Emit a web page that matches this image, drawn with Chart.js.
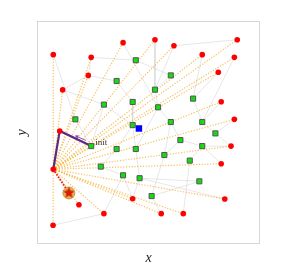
<!DOCTYPE html>
<html>
<head>
<meta charset="utf-8">
<script src="https://cdn.jsdelivr.net/npm/chart.js@4/dist/chart.umd.min.js"></script>
<style>
  html, body { margin: 0; padding: 0; background: #fff; }
  #c { display: block; }
</style>
</head>
<body>
<canvas id="c" width="287" height="275"></canvas>
<script>
// Red nodes (r0 is the hub the dotted rays start from, r1 is the path vertex)
const redX = [7.3, 10.2, 7.3, 24.3, 38.6, 23.0, 11.5, 52.9, 61.4, 89.8, 74.1, 88.5, 81.3, 82.6, 88.5, 87.0, 82.6, 84.2, 65.6, 55.7, 42.9, 30.0, 18.8, 7.2];
const redY = [33.5, 50.7, 84.9, 83.7, 90.3, 75.6, 69.1, 91.6, 88.9, 91.6, 84.9, 83.7, 77.0, 63.8, 55.9, 43.9, 36.0, 20.2, 13.6, 13.6, 20.3, 13.6, 17.6, 8.4];

// Green nodes (g19 is "init")
const greenX = [44.3, 35.7, 30.0, 42.9, 17.2, 42.9, 60.0, 52.9, 70.0, 54.3, 60.0, 74.1, 80.0, 64.3, 74.1, 57.1, 68.5, 72.8, 51.4, 24.3, 35.7, 44.3, 28.6, 38.6, 46.0];
const greenY = [82.4, 73.1, 62.5, 63.7, 55.9, 53.3, 75.6, 69.2, 65.2, 61.3, 54.7, 54.7, 49.6, 46.6, 43.9, 39.9, 37.4, 28.1, 21.5, 43.9, 42.6, 42.6, 34.7, 30.8, 29.5];

const bluePoint = [45.7, 51.8];
const starPoint = [14.3, 22.9];
const hubNode = 'r0';
const initNode = 'g19';
const initLabel = 'init';
const pathNodes = ['r0', 'r1', 'g19'];
const arrowTail = [22.0, 46.4];
const arrowHead = [17.9, 48.2];

// light gray graph edges
const edges = [
  ['r2', 'g4'], ['r6', 'g2'], ['r5', 'g1'], ['r3', 'g0'], ['r4', 'g9'], ['r7', 'g7'],
  ['r8', 'g7'], ['r8', 'r9'], ['r10', 'g8'], ['r11', 'g11'], ['r12', 'g8'], ['r13', 'g11'],
  ['r14', 'g12'], ['r15', 'g14'], ['r16', 'g14'], ['g0', 'g6'], ['g1', 'g3'], ['g2', 'g5'],
  ['g3', 'g5'], ['g4', 'g19'], ['g2', 'g19'], ['g5', 'g20'], ['g5', 'g21'], ['g6', 'g7'],
  ['g7', 'g9'], ['g9', 'g10'], ['g10', 'g13'], ['g8', 'g11'], ['g11', 'g12'], ['g13', 'g14'],
  ['g13', 'g15'], ['g14', 'g16'], ['g15', 'g18'], ['g16', 'r18'], ['g17', 'g18'], ['g18', 'r19'],
  ['g24', 'g17'], ['g24', 'r17'], ['g21', 'g24'], ['g20', 'g22'], ['g22', 'g23'], ['g23', 'r21'],
  ['r21', 'r23'], ['g23', 'r20'], ['g24', 'r20'], ['g12', 'r15'], ['g10', 'g15'], ['g9', 'g21'],
  ['r6', 'r5'], ['r3', 'r5']
];

function node(name) {
  const i = parseInt(name.slice(1), 10);
  return name[0] === 'r' ? { x: redX[i], y: redY[i] } : { x: greenX[i], y: greenY[i] };
}

// star marker image
const starImg = document.createElement('canvas');
starImg.width = 11; starImg.height = 11;
(function () {
  const g = starImg.getContext('2d');
  g.beginPath();
  for (let k = 0; k < 10; k++) {
    const r = k % 2 === 0 ? 5 : 2.2;
    const a = -Math.PI / 2 + k * Math.PI / 5;
    const px = 5.5 + r * Math.cos(a), py = 5.5 + r * Math.sin(a);
    if (k === 0) g.moveTo(px, py); else g.lineTo(px, py);
  }
  g.closePath();
  g.fillStyle = '#ee1111';
  g.fill();
  g.strokeStyle = '#7a1010';
  g.lineWidth = 0.6;
  g.stroke();
})();

const datasets = [];

// points on top
datasets.push({
  data: [{ x: starPoint[0], y: starPoint[1] }],
  pointStyle: starImg, order: 0
});
datasets.push({
  data: [{ x: starPoint[0], y: starPoint[1] }],
  pointRadius: 6, pointBackgroundColor: 'rgba(240,160,40,0.85)',
  pointBorderColor: '#c98a20', pointBorderWidth: 0.8, order: 0.5
});
datasets.push({
  data: [{ x: bluePoint[0], y: bluePoint[1] }],
  pointStyle: 'rect', pointRadius: 4.6, pointBackgroundColor: '#0000ff',
  pointBorderColor: '#0000ff', pointBorderWidth: 0, order: 0.6
});
datasets.push({
  data: greenX.map((x, i) => ({ x, y: greenY[i] })),
  pointStyle: 'rect', pointRadius: 3.6, pointBackgroundColor: '#11dd11',
  pointBorderColor: '#555555', pointBorderWidth: 1, order: 0.7
});
datasets.push({
  data: redX.map((x, i) => ({ x, y: redY[i] })),
  pointRadius: 2.8, pointBackgroundColor: '#ff0000',
  pointBorderColor: '#ff0000', pointBorderWidth: 0, order: 0.8
});

// purple path and small arrow
datasets.push({
  data: pathNodes.map(node), showLine: true, pointRadius: 0,
  borderColor: '#5b2a86', borderWidth: 2.2, order: 1
});
datasets.push({
  data: [{ x: arrowTail[0], y: arrowTail[1] }, { x: arrowHead[0], y: arrowHead[1] }],
  showLine: true, borderColor: '#8e44ad', borderWidth: 0.9,
  pointRadius: [0, 2.2], pointStyle: 'triangle', pointRotation: -66,
  pointBackgroundColor: '#8e44ad', pointBorderColor: '#8e44ad', pointBorderWidth: 0, order: 1
});

// red dotted ray to the star
datasets.push({
  data: [node(hubNode), { x: starPoint[0], y: starPoint[1] }],
  showLine: true, pointRadius: 0, borderColor: '#ee1111', borderWidth: 1.8,
  borderDash: [1.5, 1.5], order: 1.5
});

// orange dotted rays from the hub
redX.forEach((x, i) => {
  if ('r' + i === hubNode) return;
  datasets.push({
    data: [node(hubNode), { x, y: redY[i] }],
    showLine: true, pointRadius: 0, borderColor: 'rgba(246,176,50,0.8)',
    borderWidth: 1.2, borderDash: [1.2, 1.6], order: 2
  });
});

// gray edges
edges.forEach(([a, b]) => {
  datasets.push({
    data: [node(a), node(b)], showLine: true, pointRadius: 0,
    borderColor: 'rgba(200,200,200,0.55)', borderWidth: 0.8, order: 3
  });
});

const framePlugin = {
  id: 'frame',
  beforeDatasetsDraw(chart) {
    const { ctx, chartArea: a } = chart;
    ctx.save();
    ctx.strokeStyle = '#d6d6d6';
    ctx.lineWidth = 1;
    ctx.strokeRect(a.left + 0.5, a.top + 0.5, a.right - a.left - 1, a.bottom - a.top - 1);
    ctx.restore();
  },
  afterDatasetsDraw(chart) {
    const { ctx, scales } = chart;
    const p = node(initNode);
    ctx.save();
    ctx.font = '9px "Liberation Serif", serif';
    ctx.fillStyle = '#333';
    ctx.textBaseline = 'middle';
    ctx.fillText(initLabel, scales.x.getPixelForValue(p.x) + 4, scales.y.getPixelForValue(p.y) - 3.5);
    ctx.restore();
  }
};

const titleFont = { family: '"Liberation Serif", serif', size: 14, style: 'italic' };

new Chart(document.getElementById('c'), {
  type: 'scatter',
  data: { datasets },
  plugins: [framePlugin],
  options: {
    responsive: false,
    animation: false,
    events: [],
    layout: { padding: { left: 12.2, right: 27, top: 21, bottom: 5.2 } },
    plugins: { legend: { display: false }, tooltip: { enabled: false } },
    scales: {
      x: {
        min: 0, max: 100,
        ticks: { display: false },
        grid: { display: false, drawTicks: false },
        border: { display: false },
        title: { display: true, text: 'x', color: '#222', font: titleFont, padding: { top: 6, bottom: 3 } }
      },
      y: {
        min: 0, max: 100,
        ticks: { display: false },
        grid: { display: false, drawTicks: false },
        border: { display: false },
        title: { display: true, text: 'y', color: '#222', font: titleFont, padding: { top: 2, bottom: 6 } }
      }
    }
  }
});
</script>
</body>
</html>
